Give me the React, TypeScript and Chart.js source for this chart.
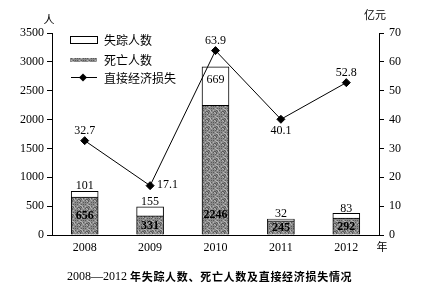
import React, { useEffect, useRef } from "react";
import { Chart, registerables } from "chart.js";

Chart.register(...registerables);

const years = ["2008", "2009", "2010", "2011", "2012"];
const deaths = [656, 331, 2246, 245, 292];
const missing = [101, 155, 669, 32, 83];
const losses = [32.7, 17.1, 63.9, 40.1, 52.8];
const leftTicks = [0, 500, 1000, 1500, 2000, 2500, 3000, 3500];
const rightTicks = [0, 10, 20, 30, 40, 50, 60, 70];
const lossLabelPlacement = ["above", "right", "above", "below", "above"];

const SERIF = "'Liberation Serif', 'DejaVu Serif', serif";
const CJK = "'Noto Sans CJK SC', sans-serif";

function makePattern(): CanvasPattern | string {
  const c = document.createElement("canvas");
  c.width = 8;
  c.height = 8;
  const g = c.getContext("2d");
  if (!g) return "#888";
  g.fillStyle = "#8a8a8a";
  g.fillRect(0, 0, 8, 8);
  for (let y = 0; y < 8; y++) {
    for (let x = 0; x < 8; x++) {
      const h = (x * 7 + y * 13 + x * y * 5) % 11;
      if (h < 3) {
        g.fillStyle = "#5a5a5a";
        g.fillRect(x, y, 1, 1);
      } else if (h > 8) {
        g.fillStyle = "#b4b4b4";
        g.fillRect(x, y, 1, 1);
      }
    }
  }
  const p = g.createPattern(c, "repeat");
  return p || "#888";
}

export default function App() {
  const ref = useRef<HTMLCanvasElement | null>(null);

  useEffect(() => {
    if (!ref.current) return;
    const pattern = makePattern();

    const overlay = {
      id: "overlay",
      afterDraw(chart: any) {
        const ctx = chart.ctx as CanvasRenderingContext2D;
        const yS = chart.scales.y;
        const metaD = chart.getDatasetMeta(0);
        const metaM = chart.getDatasetMeta(1);
        const metaL = chart.getDatasetMeta(2);
        ctx.save();
        ctx.fillStyle = "#000";
        ctx.textAlign = "center";
        ctx.textBaseline = "middle";
        const base = yS.getPixelForValue(0);
        // death labels
        ctx.font = `bold 12px ${SERIF}`;
        metaD.data.forEach((el: any, i: number) => {
          const mid = (el.y + base) / 2;
          const y = Math.max(mid, base - 20);
          ctx.fillText(String(deaths[i]), el.x, y);
        });
        // missing labels
        ctx.font = `12px ${SERIF}`;
        metaM.data.forEach((el: any, i: number) => {
          const h = el.base - el.y;
          const y = h > 30 ? el.y + 13 : el.y - 5;
          ctx.fillText(String(missing[i]), el.x, y);
        });
        // loss labels
        metaL.data.forEach((el: any, i: number) => {
          const pl = lossLabelPlacement[i];
          if (pl === "above") {
            ctx.textAlign = "center";
            ctx.fillText(String(losses[i]), el.x, el.y - 10);
          } else if (pl === "below") {
            ctx.textAlign = "center";
            ctx.fillText(String(losses[i]), el.x, el.y + 12);
          } else {
            ctx.textAlign = "left";
            ctx.fillText(String(losses[i]), el.x + 7, el.y - 1);
          }
        });
        // legend
        const lx = 62;
        ctx.lineWidth = 1;
        ctx.strokeStyle = "#000";
        ctx.fillStyle = "#fff";
        ctx.fillRect(lx + 0.5, 28.5, 27, 7);
        ctx.strokeRect(lx + 0.5, 28.5, 27, 7);
        ctx.fillStyle = pattern as any;
        ctx.fillRect(lx, 50, 27, 4);
        ctx.beginPath();
        ctx.moveTo(lx + 1, 69.5);
        ctx.lineTo(lx + 27, 69.5);
        ctx.stroke();
        ctx.fillStyle = "#000";
        ctx.beginPath();
        ctx.moveTo(lx + 13, 65.5);
        ctx.lineTo(lx + 17, 69.5);
        ctx.lineTo(lx + 13, 73.5);
        ctx.lineTo(lx + 9, 69.5);
        ctx.closePath();
        ctx.fill();
        ctx.font = `12px ${CJK}`;
        ctx.textAlign = "left";
        ctx.fillText("失踪人数", 96, 32);
        ctx.fillText("死亡人数", 96, 52);
        ctx.fillText("直接经济损失", 96, 70);
        // axis units
        ctx.textAlign = "center";
        ctx.font = `11px ${CJK}`;
        ctx.fillText("人", 41, 12);
        ctx.fillText("亿元", 367, 7);
        ctx.fillText("年", 374, 239);
        // title
        ctx.textAlign = "left";
        const part1 = "2008—2012 ";
        const part2 = "年失踪人数、死亡人数及直接经济损失情况";
        const start = 59;
        ctx.font = `12px ${SERIF}`;
        const w1 = ctx.measureText(part1).width;
        ctx.fillText(part1, start, 269);
        ctx.font = `bold 11px ${CJK}`;
        (ctx as any).letterSpacing = "0.7px";
        ctx.fillText(part2, start + w1, 269);
        ctx.restore();
      },
    };

    const tickFont = { family: SERIF, size: 12 };

    const chart = new Chart(ref.current, {
      type: "bar",
      data: {
        labels: years,
        datasets: [
          {
            label: "死亡人数",
            data: deaths,
            backgroundColor: pattern as any,
            borderColor: "#000",
            borderWidth: 1,
            barThickness: 27,
            stack: "s",
            yAxisID: "y",
            order: 1,
          },
          {
            label: "失踪人数",
            data: missing,
            backgroundColor: "#fff",
            borderColor: "#000",
            borderWidth: 1,
            barThickness: 27,
            stack: "s",
            yAxisID: "y",
            order: 1,
          },
          {
            type: "line",
            label: "直接经济损失",
            data: losses,
            borderColor: "#000",
            borderWidth: 1,
            pointStyle: "rectRot",
            pointRadius: 4,
            pointBackgroundColor: "#000",
            pointBorderColor: "#000",
            yAxisID: "y2",
            order: 0,
            tension: 0,
          } as any,
        ],
      },
      options: {
        responsive: false,
        animation: false,
        layout: { padding: { top: 25, left: 0, right: 0, bottom: 0 } },
        plugins: {
          legend: { display: false },
          tooltip: { enabled: false },
          title: { display: false },
        },
        scales: {
          x: {
            stacked: true,
            grid: { drawOnChartArea: false, drawTicks: false },
            border: { color: "#000", width: 1 },
            ticks: { color: "#000", font: tickFont, padding: 6, maxRotation: 0 },
            afterFit: (s: any) => {
              s.height = 54;
            },
          },
          y: {
            stacked: true,
            position: "left",
            min: 0,
            max: 3500,
            afterBuildTicks: (s: any) => {
              s.ticks = leftTicks.map((v) => ({ value: v }));
            },
            grid: { drawOnChartArea: false, drawTicks: true, tickLength: 5, color: "#000" },
            border: { color: "#000", width: 1 },
            ticks: {
              color: "#000",
              font: tickFont,
              padding: 3,
              callback: (v: any) => String(v),
            },
            afterFit: (s: any) => {
              s.width = 44;
            },
          },
          y2: {
            position: "right",
            min: 0,
            max: 70,
            afterBuildTicks: (s: any) => {
              s.ticks = rightTicks.map((v) => ({ value: v }));
            },
            grid: { drawOnChartArea: false, drawTicks: true, tickLength: 5, color: "#000" },
            border: { color: "#000", width: 1 },
            ticks: {
              color: "#000",
              font: tickFont,
              padding: 5,
              callback: (v: any) => String(v),
            },
            afterFit: (s: any) => {
              s.width = 57;
            },
          },
        },
      },
      plugins: [overlay],
    });
    return () => chart.destroy();
  }, []);

  return (
    <div style={{ width: 428, height: 281 }}>
      <canvas ref={ref} width={428} height={281} style={{ display: "block" }} />
    </div>
  );
}
